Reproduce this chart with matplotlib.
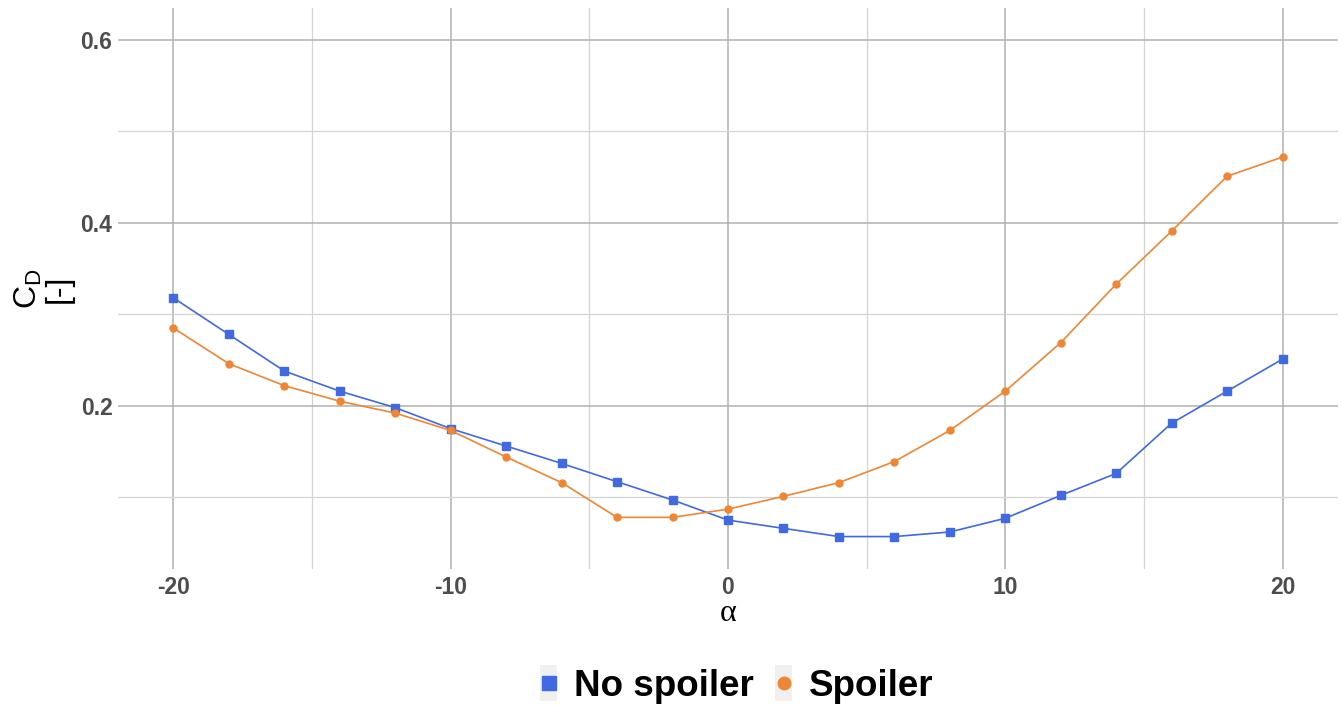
import matplotlib
matplotlib.use("Agg")
import matplotlib.pyplot as plt
from matplotlib.legend_handler import HandlerLine2D
from matplotlib.lines import Line2D
from matplotlib.patches import Rectangle
from matplotlib.ticker import MultipleLocator

# Angle of attack and drag coefficients
alpha = [-20, -18, -16, -14, -12, -10, -8, -6, -4, -2, 0, 2, 4, 6, 8, 10, 12, 14, 16, 18, 20]
cd_no_spoiler = [0.318, 0.278, 0.238, 0.216, 0.198, 0.175, 0.156, 0.137, 0.117, 0.097, 0.075,
                 0.066, 0.057, 0.057, 0.062, 0.077, 0.102, 0.126, 0.181, 0.216, 0.251]
cd_spoiler = [0.285, 0.246, 0.222, 0.205, 0.192, 0.173, 0.144, 0.116, 0.078, 0.078, 0.087,
              0.101, 0.116, 0.139, 0.173, 0.216, 0.269, 0.333, 0.391, 0.451, 0.472]
series_labels = ["No spoiler", "Spoiler"]
x_ticks = [-20, -10, 0, 10, 20]
y_ticks = [0.2, 0.4, 0.6]

blue = "#4169E1"
orange = "#EF8633"

plt.rcParams["font.family"] = ["Liberation Sans", "DejaVu Sans"]
plt.rcParams["mathtext.default"] = "regular"
plt.rcParams["axes.unicode_minus"] = False


class KeyBox(HandlerLine2D):
    # legend key with a light grey background like ggplot
    def create_artists(self, legend, orig_handle, xdescent, ydescent, width, height, fontsize, trans):
        arts = super().create_artists(legend, orig_handle, xdescent, ydescent, width, height, fontsize, trans)
        bg = Rectangle((-xdescent, -ydescent - height * 0.2), width, height * 1.4,
                       facecolor="#f0f0f0", edgecolor="none", transform=trans)
        return [bg] + list(arts)


fig = plt.figure(figsize=(13.42, 7.06), dpi=100)
ax = fig.add_axes([0.0879, 0.194, 0.9091, 0.7947])

ax.plot(alpha, cd_no_spoiler, color=blue, lw=1.2, marker="s", ms=5.5, zorder=3)
ax.plot(alpha, cd_spoiler, color=orange, lw=1.2, marker="o", ms=5, zorder=3)

ax.set_xlim(-22, 22)
ax.set_ylim(0.0215, 0.635)
ax.set_xticks(x_ticks)
ax.set_yticks(y_ticks)
ax.xaxis.set_minor_locator(MultipleLocator(5))
ax.yaxis.set_minor_locator(MultipleLocator(0.1))
ax.grid(which="major", color="#b0b0b0", lw=1.1)
ax.grid(which="minor", color="#d4d4d4", lw=0.9)
ax.set_axisbelow(True)
for s in ax.spines.values():
    s.set_visible(False)
ax.tick_params(which="both", length=0)
ax.tick_params(axis="x", pad=5)
ax.tick_params(axis="y", pad=4)
for lab in ax.get_xticklabels() + ax.get_yticklabels():
    lab.set_fontweight("bold")
    lab.set_fontsize(16.5)
    lab.set_color("#4d4d4d")

ax.set_xlabel("α", fontsize=23, labelpad=0, family=["Liberation Serif", "DejaVu Serif"])
ax.set_ylabel("$C_D$\n[-]", fontsize=23, linespacing=1.0)
ax.yaxis.set_label_coords(-0.036, 0.5)

handles = [Line2D([], [], color=blue, marker="s", ls="none", ms=10),
           Line2D([], [], color=orange, marker="o", ls="none", ms=9)]
fig.legend(handles, series_labels, loc="center", bbox_to_anchor=(0.549, 0.028), ncol=2,
           frameon=False, prop={"weight": "bold", "size": 26.5}, handlelength=0.45,
           handletextpad=0.45, columnspacing=0.6, borderpad=0,
           handler_map={Line2D: KeyBox()})

fig.savefig("out.png", dpi=100)
